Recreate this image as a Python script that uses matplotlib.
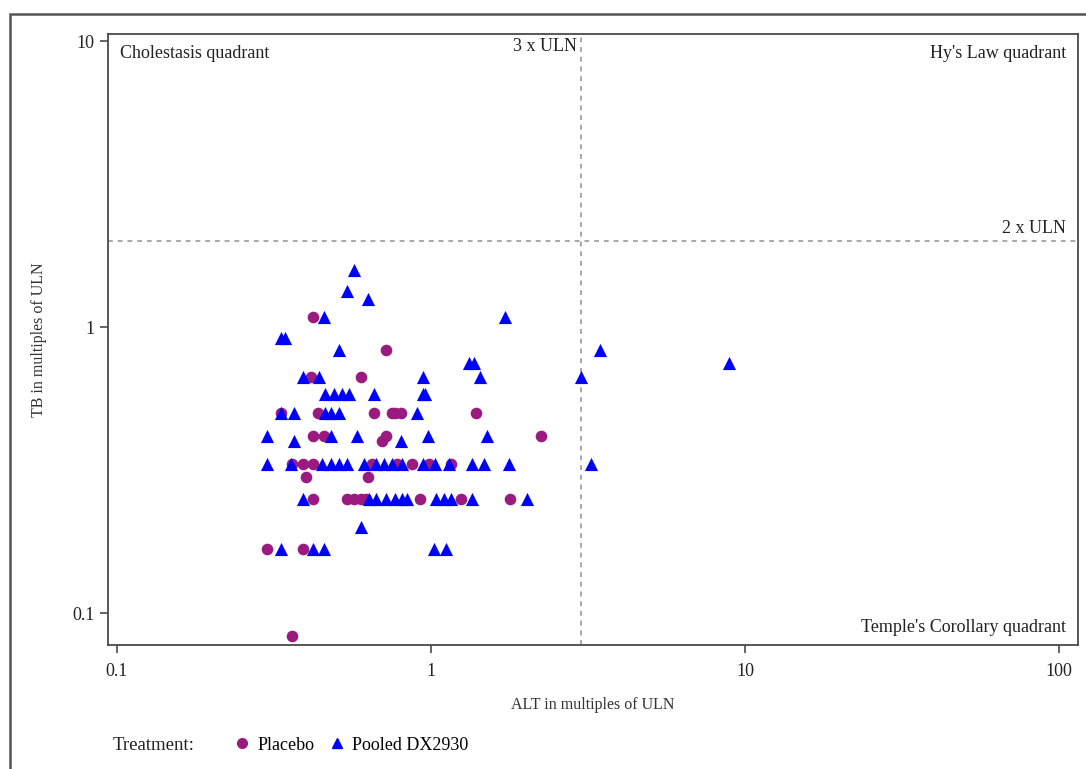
import matplotlib
matplotlib.use("Agg")
import matplotlib.pyplot as plt
from matplotlib.lines import Line2D
from matplotlib.patches import Rectangle

plt.rcParams['font.family'] = ['Liberation Serif', 'DejaVu Serif']

# ALT and TB, both in multiples of ULN
placebo_alt = [0.42, 0.72, 0.415, 0.60, 0.333, 0.436, 0.66, 0.75, 0.77, 0.80, 1.39,
               0.42, 0.456, 0.70, 0.72, 2.24,
               0.36, 0.39, 0.42, 0.65, 0.78, 0.87, 0.985, 1.16,
               0.40, 0.63,
               0.42, 0.54, 0.57, 0.60, 0.62, 0.92, 1.25, 1.79,
               0.30, 0.39,
               0.36]
placebo_tb = [1.083, 0.833, 0.667, 0.667, 0.5, 0.5, 0.5, 0.5, 0.5, 0.5, 0.5,
              0.417, 0.417, 0.4, 0.417, 0.417,
              0.333, 0.333, 0.333, 0.333, 0.333, 0.333, 0.333, 0.333,
              0.3, 0.3,
              0.25, 0.25, 0.25, 0.25, 0.25, 0.25, 0.25, 0.25,
              0.167, 0.167,
              0.083]

pooled_alt = [0.57, 0.54, 0.63, 0.456, 1.72,
              0.333, 0.343,
              0.51, 3.45,
              1.32, 1.37, 8.9,
              0.39, 0.44, 0.94, 1.43, 3.0,
              0.46, 0.49, 0.52, 0.55, 0.66, 0.94, 0.96,
              0.333, 0.366, 0.46, 0.48, 0.51, 0.90,
              0.30, 0.48, 0.58, 0.98, 1.51, 0.366, 0.80,
              0.30, 0.358, 0.45, 0.48, 0.51, 0.54, 0.61, 0.67, 0.71, 0.75, 0.81,
              0.94, 1.03, 1.14, 1.35, 1.48, 1.77, 3.23,
              0.39, 0.635, 0.67, 0.72, 0.77, 0.81, 0.84, 1.04, 1.10, 1.16, 1.35, 2.02,
              0.60,
              0.333, 0.42, 0.456, 1.02, 1.12]
pooled_tb = [1.583, 1.333, 1.25, 1.083, 1.083,
             0.917, 0.917,
             0.833, 0.833,
             0.75, 0.75, 0.75,
             0.667, 0.667, 0.667, 0.667, 0.667,
             0.583, 0.583, 0.583, 0.583, 0.583, 0.583, 0.583,
             0.5, 0.5, 0.5, 0.5, 0.5, 0.5,
             0.417, 0.417, 0.417, 0.417, 0.417, 0.4, 0.4,
             0.333, 0.333, 0.333, 0.333, 0.333, 0.333, 0.333, 0.333, 0.333, 0.333, 0.333,
             0.333, 0.333, 0.333, 0.333, 0.333, 0.333, 0.333,
             0.25, 0.25, 0.25, 0.25, 0.25, 0.25, 0.25, 0.25, 0.25, 0.25, 0.25, 0.25,
             0.2,
             0.167, 0.167, 0.167, 0.167, 0.167]

alt_ref = 3   # 3 x ULN
tb_ref = 2    # 2 x ULN

purple = '#9a1a7f'
blue = '#0000ff'
frame = '#4a4a4a'
txt = '#222222'

fig = plt.figure(figsize=(10.86, 7.69), dpi=100)
ax = fig.add_axes([0.0994, 0.1612, 0.8932, 0.7945])

ax.axvline(alt_ref, color='#a8a8a8', ls=(0, (2.5, 2.5)), lw=1.4, zorder=1)
ax.axhline(tb_ref, color='#a8a8a8', ls=(0, (2.5, 2.5)), lw=1.4, zorder=1)

ax.scatter(placebo_alt, placebo_tb, marker='o', s=70, color=purple, lw=0, zorder=3)
ax.scatter(pooled_alt, pooled_tb, marker='^', s=90, color=blue, lw=0, zorder=3)

ax.set_xscale('log')
ax.set_yscale('log')
ax.set_xlim(0.0936, 115)
ax.set_ylim(0.0773, 10.58)
ax.set_xticks([0.1, 1, 10, 100])
ax.set_xticklabels(['0.1', '1', '10', '100'])
ax.set_yticks([0.1, 1, 10])
ax.set_yticklabels(['0.1', '1', '10'])
ax.minorticks_off()
ax.tick_params(labelsize=13, length=6, width=1.2, color=frame, labelcolor=txt)
ax.tick_params(axis='x', pad=7)
for sp in ax.spines.values():
    sp.set_color(frame)
    sp.set_linewidth(1.3)

ax.set_xlabel('ALT in multiples of ULN', fontsize=11.5, color='#333333', labelpad=12)
ax.set_ylabel('TB in multiples of ULN', fontsize=11.5, color='#333333', labelpad=18)

ax.text(0.0124, 0.982, 'Cholestasis quadrant', transform=ax.transAxes, ha='left', va='top',
        fontsize=13, color=txt)
ax.text(0.9876, 0.982, "Hy's Law quadrant", transform=ax.transAxes, ha='right', va='top',
        fontsize=13, color=txt)
ax.text(0.9876, 0.014, "Temple's Corollary quadrant", transform=ax.transAxes, ha='right',
        va='bottom', fontsize=13, color=txt)
ax.annotate('3 x ULN', xy=(alt_ref, 1), xycoords=('data', 'axes fraction'), xytext=(-3, -3),
            textcoords='offset points', ha='right', va='top', fontsize=13, color=txt)
ax.annotate('2 x ULN', xy=(1, tb_ref), xycoords=('axes fraction', 'data'), xytext=(-9, 3),
            textcoords='offset points', ha='right', va='bottom', fontsize=13, color=txt)

# legend row at the bottom
fig.text(113 / 1086, 1 - 745 / 769, 'Treatment:', ha='left', va='center', fontsize=13.5,
         color=txt)
handles = [Line2D([], [], marker='o', ls='', color=purple, markersize=7),
           Line2D([], [], marker='^', ls='', color=blue, markersize=7)]
fig.legend(handles, ['Placebo', 'Pooled DX2930'], loc='center left',
           bbox_to_anchor=(234 / 1086, 1 - 745 / 769), ncol=2, frameon=False, fontsize=13,
           handlelength=0.9, handletextpad=0.4, columnspacing=0.8, borderpad=0, borderaxespad=0)

# outer border of the graphic
fig.add_artist(Rectangle((10 / 1086, -0.2), 2, 1.2 - 14 / 769, transform=fig.transFigure,
                         fill=False, edgecolor='#555555', lw=1.8))

fig.savefig('out.png', dpi=100)
